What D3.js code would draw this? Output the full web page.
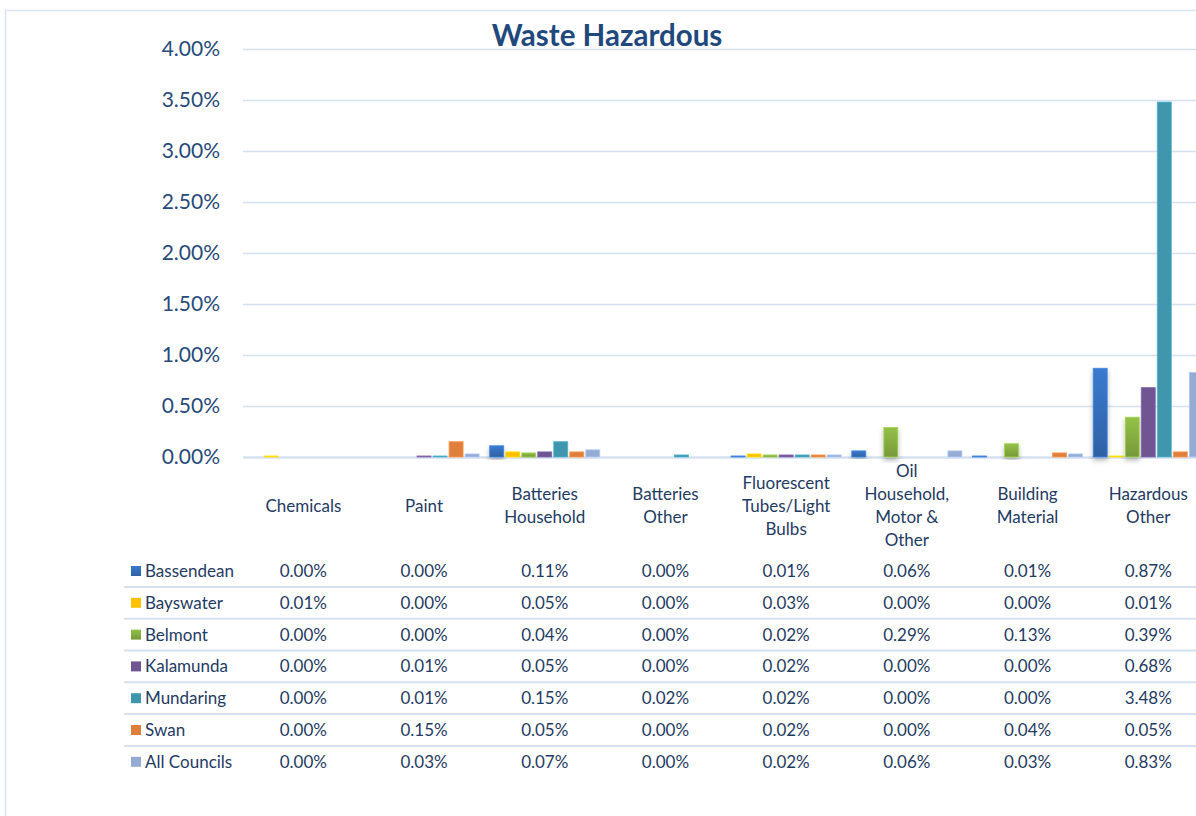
<!DOCTYPE html>
<html>
<head>
<meta charset="utf-8">
<script src="https://cdn.jsdelivr.net/npm/d3@7"></script>
<style>
  body { margin: 0; background: #fff; }
  svg { display: block; font-family: Lato, "Open Sans", sans-serif; }
</style>
</head>
<body>
<div id="chart"></div>
<script>
// categories (tick labels, "\n" marks a line break as in the original)
var categories = ["Chemicals", "Paint", "Batteries\nHousehold", "Batteries\nOther",
  "Fluorescent\nTubes/Light\nBulbs", "Oil\nHousehold,\nMotor &\nOther", "Building\nMaterial", "Hazardous\nOther"];

var seriesNames = ["Bassendean", "Bayswater", "Belmont", "Kalamunda", "Mundaring", "Swan", "All Councils"];

// values in percent, one array per council
var bassendean  = [0.00, 0.00, 0.11, 0.00, 0.01, 0.06, 0.01, 0.87];
var bayswater   = [0.01, 0.00, 0.05, 0.00, 0.03, 0.00, 0.00, 0.01];
var belmont     = [0.00, 0.00, 0.04, 0.00, 0.02, 0.29, 0.13, 0.39];
var kalamunda   = [0.00, 0.01, 0.05, 0.00, 0.02, 0.00, 0.00, 0.68];
var mundaring   = [0.00, 0.01, 0.15, 0.02, 0.02, 0.00, 0.00, 3.48];
var swan        = [0.00, 0.15, 0.05, 0.00, 0.02, 0.00, 0.04, 0.05];
var allCouncils = [0.00, 0.03, 0.07, 0.00, 0.02, 0.06, 0.03, 0.83];

var yTicks = [0, 0.5, 1, 1.5, 2, 2.5, 3, 3.5, 4];

var seriesValues = [bassendean, bayswater, belmont, kalamunda, mundaring, swan, allCouncils];
var colors = ["#3672c0", "#ffc000", "#8ab443", "#6f5592", "#4096ad", "#e07f3c", "#94abd3"];
var shaded = [true, false, true, false, false, false, false];

var W = 1196, H = 816;
var margin = {left: 243, top: 49},
    band = 120.7,
    plotBottom = 457;

var svg = d3.select("#chart").append("svg")
    .attr("width", W)
    .attr("height", H);

var defs = svg.append("defs");
seriesNames.forEach(function(s, i) {
  var g = defs.append("linearGradient")
      .attr("id", "grad" + i)
      .attr("x1", 0).attr("y1", 0).attr("x2", 0).attr("y2", 1);
  var c = d3.color(colors[i]);
  g.append("stop").attr("offset", "0%").attr("stop-color", shaded[i] ? c.brighter(0.2) : c);
  g.append("stop").attr("offset", "100%").attr("stop-color", shaded[i] ? c.darker(0.45) : c);
});
var shadow = defs.append("filter").attr("id", "shadow")
    .attr("x", "-50%").attr("y", "-10%").attr("width", "200%").attr("height", "130%");
shadow.append("feDropShadow")
    .attr("dx", 0).attr("dy", 3).attr("stdDeviation", 2.5)
    .attr("flood-color", "#000").attr("flood-opacity", 0.28);

// outer chart border (cropped at right and bottom)
svg.append("rect")
    .attr("x", 5.5).attr("y", 10.5)
    .attr("width", 1300).attr("height", 900)
    .attr("fill", "none")
    .attr("stroke", "#d8e2f0")
    .attr("stroke-width", 1.5);

var x = d3.scaleBand()
    .domain(d3.range(categories.length))
    .range([margin.left, margin.left + band * categories.length]);

var x1 = d3.scaleBand()
    .domain(d3.range(seriesNames.length))
    .range([0, x.bandwidth()])
    .paddingInner(0.125)
    .paddingOuter(0.33);

var y = d3.scaleLinear()
    .domain([0, 4])
    .range([plotBottom, margin.top]);

// y axis with gridlines
var yAxis = d3.axisLeft(y)
    .tickValues(yTicks)
    .tickFormat(function(d) { return d3.format(".2f")(d) + "%"; })
    .tickSize(-(W - margin.left + 40))
    .tickPadding(23);

var yg = svg.append("g")
    .attr("transform", "translate(" + margin.left + ",0)")
    .call(yAxis)
    .attr("font-family", null)
    .attr("font-size", null);
yg.select(".domain").remove();
yg.selectAll(".tick line")
    .attr("stroke", "#d6e1f0")
    .attr("stroke-width", function(d) { return d === 0 ? 2.5 : 1.5; });
yg.selectAll(".tick text")
    .attr("fill", "#284a7a")
    .style("font-size", "21px");

// bars
var groups = svg.append("g").selectAll("g")
    .data(categories)
    .join("g")
    .attr("transform", function(d, i) { return "translate(" + x(i) + ",0)"; });

groups.selectAll("rect")
    .data(function(d, ci) {
      return seriesValues.map(function(vals, si) { return {si: si, v: vals[ci]}; });
    })
    .join("rect")
    .attr("x", function(d) { return x1(d.si); })
    .attr("width", x1.bandwidth())
    .attr("y", function(d) { return y(d.v); })
    .attr("height", function(d) { return plotBottom - y(d.v); })
    .attr("fill", function(d) { return "url(#grad" + d.si + ")"; })
    .attr("stroke", function(d) { return d3.color(colors[d.si]).brighter(0.5); })
    .attr("stroke-width", function(d) { return d.v > 0 ? 0.8 : 0; })
    .attr("filter", function(d) { return shaded[d.si] && d.v > 0 ? "url(#shadow)" : null; });

// category labels
var lineH = 23, labelMid = 506;
var xAxis = d3.axisBottom(x).tickSize(0).tickFormat("");
var xg = svg.append("g")
    .attr("transform", "translate(0," + plotBottom + ")")
    .call(xAxis)
    .attr("font-family", null)
    .attr("font-size", null);
xg.select(".domain").remove();
xg.selectAll(".tick").each(function(d) {
  var lines = categories[d].split("\n");
  var t = d3.select(this).append("text")
      .attr("text-anchor", "middle")
      .attr("fill", "#1f3b63")
      .style("font-size", "17px");
  lines.forEach(function(l, k) {
    t.append("tspan")
        .attr("x", 0)
        .attr("y", labelMid - plotBottom + (k - (lines.length - 1) / 2) * lineH)
        .attr("dy", "0.35em")
        .text(l);
  });
});

// data table
var rowTop = 571, rowH = 31.8;
var table = svg.append("g");
seriesNames.forEach(function(name, si) {
  var cy = rowTop + si * rowH;
  if (si > 0) {
    table.append("line")
        .attr("x1", 124).attr("x2", W + 10)
        .attr("y1", cy - rowH / 2).attr("y2", cy - rowH / 2)
        .attr("stroke", "#d6e1f0").attr("stroke-width", 2);
  }
  table.append("rect")
      .attr("x", 131).attr("y", cy - 5)
      .attr("width", 10).attr("height", 10)
      .attr("fill", "url(#grad" + si + ")");
  table.append("text")
      .attr("x", 145).attr("y", cy).attr("dy", "0.35em")
      .attr("fill", "#1f3b63")
      .style("font-size", "17px")
      .text(name);
  table.selectAll(null)
      .data(seriesValues[si])
      .join("text")
      .attr("x", function(d, ci) { return x(ci) + x.bandwidth() / 2; })
      .attr("y", cy).attr("dy", "0.35em")
      .attr("text-anchor", "middle")
      .attr("fill", "#1f3b63")
      .style("font-size", "17px")
      .text(function(d) { return d3.format(".2f")(d) + "%"; });
});

// title
svg.append("text")
    .attr("x", 607).attr("y", 36).attr("dy", "0.35em")
    .attr("text-anchor", "middle")
    .attr("fill", "#1f497d")
    .style("font-size", "29.5px")
    .style("font-weight", "bold")
    .text("Waste Hazardous");
</script>
</body>
</html>
